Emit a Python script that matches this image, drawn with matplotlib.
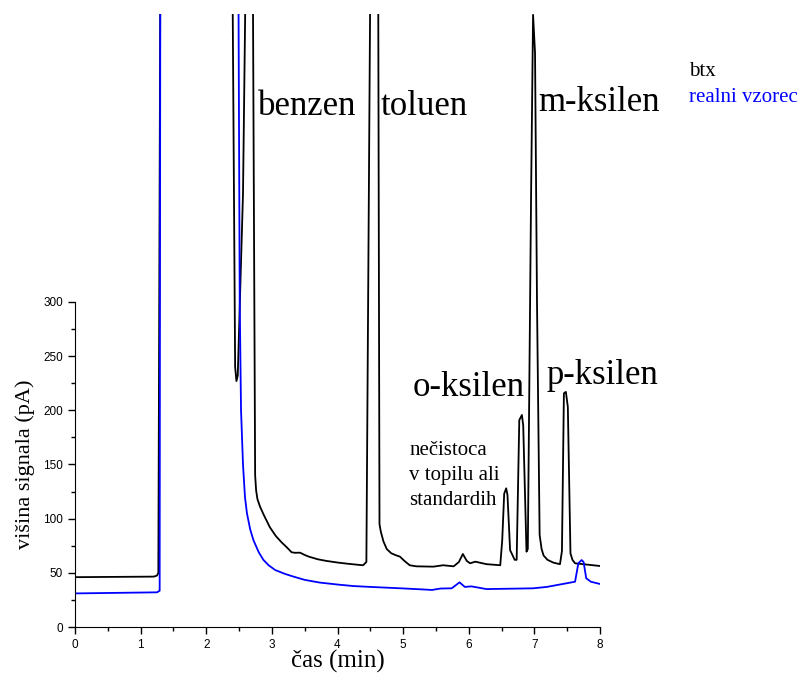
import matplotlib
matplotlib.use("Agg")
import matplotlib.pyplot as plt
from matplotlib.ticker import MultipleLocator

# black trace: btx standard (time in min, signal in pA)
btx_t = [0.0, 1.20, 1.25, 1.27, 1.30, 2.40, 2.44, 2.46, 2.48, 2.56, 2.60, 2.71,
         2.745, 2.76, 2.78, 2.82, 2.88, 2.97, 3.06, 3.15, 3.22, 3.30, 3.35, 3.43,
         3.50, 3.56, 3.70, 3.83, 4.00, 4.14, 4.30, 4.39, 4.44, 4.50, 4.62, 4.64,
         4.66, 4.70, 4.75, 4.82, 4.90, 4.95, 5.02, 5.10, 5.20, 5.46, 5.61, 5.77,
         5.85, 5.91, 5.97, 6.02, 6.10, 6.27, 6.48, 6.51, 6.54, 6.57, 6.59, 6.63,
         6.70, 6.73, 6.77, 6.81, 6.83, 6.88, 6.90, 6.95, 6.98, 7.01, 7.04, 7.08,
         7.11, 7.14, 7.20, 7.29, 7.39, 7.42, 7.45, 7.48, 7.51, 7.55, 7.58, 7.62,
         8.0]
btx_v = [46, 46.5, 47.5, 50, 600, 600, 240, 227, 232, 400, 600, 600,
         140, 126, 118, 111, 103, 92, 84, 78, 74, 69, 68.5, 68.6,
         66.5, 65, 62.5, 61, 59.5, 58.5, 57.5, 57, 60, 600, 600, 95,
         88, 79, 72, 68, 66, 65, 61, 57, 56, 55.7, 57, 56,
         60, 67.4, 61, 58.8, 60.3, 58, 57, 80, 123, 128, 122, 71,
         62, 62, 191, 195.7, 186, 69.5, 72, 400, 565, 530, 300, 85,
         72, 66, 62, 59.4, 58, 70, 215.7, 217, 203, 68, 62, 58.8,
         56.3]

# blue trace: real sample
real_t = [0.0, 1.25, 1.29, 1.30, 2.49, 2.51, 2.53, 2.56, 2.59, 2.62, 2.67, 2.72,
          2.80, 2.87, 2.95, 3.05, 3.20, 3.33, 3.50, 3.73, 4.00, 4.24, 4.50, 4.75,
          5.00, 5.26, 5.44, 5.57, 5.74, 5.86, 5.94, 6.04, 6.27, 6.98, 7.19, 7.62,
          7.67, 7.72, 7.75, 7.79, 7.86, 8.0]
real_v = [31, 32, 33.5, 600, 600, 300, 200, 150, 120, 105, 90, 80,
          69, 62, 57, 52.6, 49, 46.5, 43.5, 41, 39.2, 37.8, 37, 36.3,
          35.6, 34.8, 34.2, 35.5, 35.7, 41.2, 37, 37.5, 35, 35.7, 37, 41.8,
          58.8, 61.8, 60, 45, 41.8, 39.7]

peak_names = ["benzen", "toluen", "m-ksilen", "o-ksilen", "p-ksilen"]
peak_pos = [(2.79, 480), (4.66, 480), (7.06, 484), (5.14, 221), (7.18, 232)]
note = "nečistoca\nv topilu ali\nstandardih"

serif = "Liberation Serif"

fig = plt.figure(figsize=(7.98, 6.86), dpi=100)
ax = fig.add_axes([75 / 798, 59 / 686, 525 / 798, 613 / 686])

ax.plot(btx_t, btx_v, color="black", lw=1.3)
ax.plot(real_t, real_v, color="#0000ff", lw=1.3)

ax.set_xlim(0, 8)
ax.set_ylim(0, 565.8)
ax.spines["top"].set_visible(False)
ax.spines["right"].set_visible(False)
ax.spines["left"].set_bounds(0, 300)

ax.set_yticks([0, 50, 100, 150, 200, 250, 300])
ax.set_yticks([v for v in range(25, 300, 50)], minor=True)
ax.set_xticks(range(0, 9))
ax.xaxis.set_minor_locator(MultipleLocator(0.5))
ax.tick_params(which="major", direction="out", length=5, width=1, labelsize=8.5)
ax.tick_params(which="minor", direction="out", length=3, width=1)
for lab in ax.get_xticklabels() + ax.get_yticklabels():
    lab.set_fontfamily("Liberation Sans")

ax.set_xlabel("čas (min)", fontfamily=serif, fontsize=18, labelpad=-1)
ax.set_ylabel("višina signala (pA)", fontfamily=serif, fontsize=16)
ax.yaxis.set_label_coords(-0.077, 300 / 565.8 * 0.5)

for name, (x, y) in zip(peak_names, peak_pos):
    ax.text(x, y, name, fontfamily=serif, fontsize=25, va="center", ha="left")
ax.text(5.09, 172, note, fontfamily=serif, fontsize=15, va="top", ha="left",
        linespacing=1.45)

fig.text(689 / 798, 1 - 72 / 686, "btx", fontfamily=serif, fontsize=15,
         color="black", va="center")
fig.text(689 / 798, 1 - 98 / 686, "realni vzorec", fontfamily=serif, fontsize=15,
         color="#0000ff", va="center")

fig.savefig("out.png", dpi=100)
